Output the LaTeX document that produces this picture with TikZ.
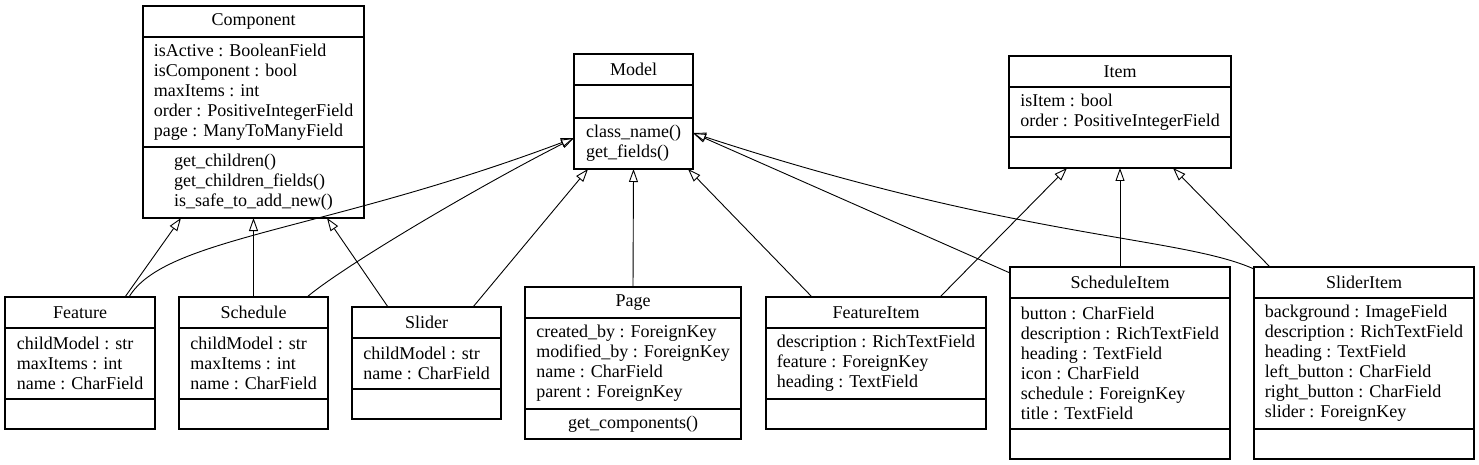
\documentclass[tikz,border=0pt]{standalone}
\usepackage{fontspec}
\setmainfont{Liberation Serif}
\usetikzlibrary{arrows.meta}

% class box: name, top left, width, title, attribute height, method height, attributes, methods
\newcommand{\umlclass}[8]{%
    \node[classbox, anchor=north west, minimum width=#3, minimum height=31+#5+#6] (#1) at (#2) {};
    \node (#1T) at ([yshift=-15.5pt]#1.north) {#4};
    \draw[divider] ([yshift=-31pt]#1.north west) -- ([yshift=-31pt]#1.north east);
    \draw[divider] ([yshift=-31pt-#5pt]#1.north west) -- ([yshift=-31pt-#5pt]#1.north east);
    \node[align=left] (#1A) at ([yshift=-31pt-#5pt/2]#1.north) {#7};
    \node[align=left] (#1M) at ([yshift=#6pt/2]#1.south) {#8};
}

\begin{document}
\begin{tikzpicture}[x=1pt, y=1pt, font=\fontsize{18}{20}\selectfont,
    classbox/.style={draw, line width=1.1pt, outer sep=0pt, inner sep=0pt},
    divider/.style={line width=1.1pt},
    inherit/.style={draw, line width=0.9pt, -{Triangle[open, length=13pt, width=9pt]}}]

    \useasboundingbox (0,0) rectangle (1479,-465);

    % Parent classes
    \umlclass{Component}{143,-6}{221}{Component}{110}{71}
        {isActive : BooleanField\\ isComponent : bool\\ maxItems : int\\ order : PositiveIntegerField\\ page : ManyToManyField}
        {get\_children()\\ get\_children\_fields()\\ is\_safe\_to\_add\_new()}
    \umlclass{Model}{574,-54}{119}{Model}{33}{51}
        {}
        {class\_name()\\ get\_fields()}
    \umlclass{Item}{1009,-56}{222}{Item}{50}{31}
        {isItem : bool\\ order : PositiveIntegerField}
        {}

    % Child classes
    \umlclass{Feature}{5,-297}{150}{Feature}{71}{30}
        {childModel : str\\ maxItems : int\\ name : CharField}{}
    \umlclass{Schedule}{179,-297}{149}{Schedule}{71}{30}
        {childModel : str\\ maxItems : int\\ name : CharField}{}
    \umlclass{Slider}{352,-307}{149}{Slider}{51}{30}
        {childModel : str\\ name : CharField}{}
    \umlclass{Page}{525,-287}{216}{Page}{91}{30}
        {created\_by : ForeignKey\\ modified\_by : ForeignKey\\ name : CharField\\ parent : ForeignKey}
        {get\_components()}
    \umlclass{FeatureItem}{766,-297}{220}{FeatureItem}{71}{30}
        {description : RichTextField\\ feature : ForeignKey\\ heading : TextField}{}
    \umlclass{ScheduleItem}{1010,-267}{220}{ScheduleItem}{131}{30}
        {button : CharField\\ description : RichTextField\\ heading : TextField\\ icon : CharField\\ schedule : ForeignKey\\ title : TextField}{}
    \umlclass{SliderItem}{1254,-267}{220}{SliderItem}{131}{30}
        {background : ImageField\\ description : RichTextField\\ heading : TextField\\ left\_button : CharField\\ right\_button : CharField\\ slider : ForeignKey}{}

    % Inheritance edges
    \draw[inherit] ([xshift=45pt]Feature.north) -- ([xshift=-72.5pt]Component.south);
    \draw[inherit] ([xshift=49pt]Feature.north) .. controls +(36,60) and +(-250,-94) .. ([yshift=-26.5pt]Model.west);
    \draw[inherit] (Schedule.north) -- (Component.south);
    \draw[inherit] ([xshift=53.5pt]Schedule.north) .. controls +(38,32) and +(-93,-47) .. ([yshift=-26.5pt]Model.west);
    \draw[inherit] ([xshift=-38.5pt]Slider.north) -- ([xshift=73.5pt]Component.south);
    \draw[inherit] ([xshift=46.5pt]Slider.north) -- ([xshift=-45.5pt]Model.south);
    \draw[inherit] (Page.north) -- (Model.south);
    \draw[inherit] ([xshift=-64pt]FeatureItem.north) -- ([xshift=54.5pt]Model.south);
    \draw[inherit] ([xshift=64pt]FeatureItem.north) -- ([xshift=-53pt]Item.south);
    \draw[inherit] ([yshift=-6pt]ScheduleItem.north west) -- ([yshift=-21.5pt]Model.east);
    \draw[inherit] (ScheduleItem.north) -- (Item.south);
    \draw[inherit] ([yshift=-2pt]SliderItem.north west) .. controls +(-74,33) and +(328,-107) .. ([yshift=-21.5pt]Model.east);
    \draw[inherit] ([xshift=-94pt]SliderItem.north) -- ([xshift=53pt]Item.south);

\end{tikzpicture}
\end{document}
